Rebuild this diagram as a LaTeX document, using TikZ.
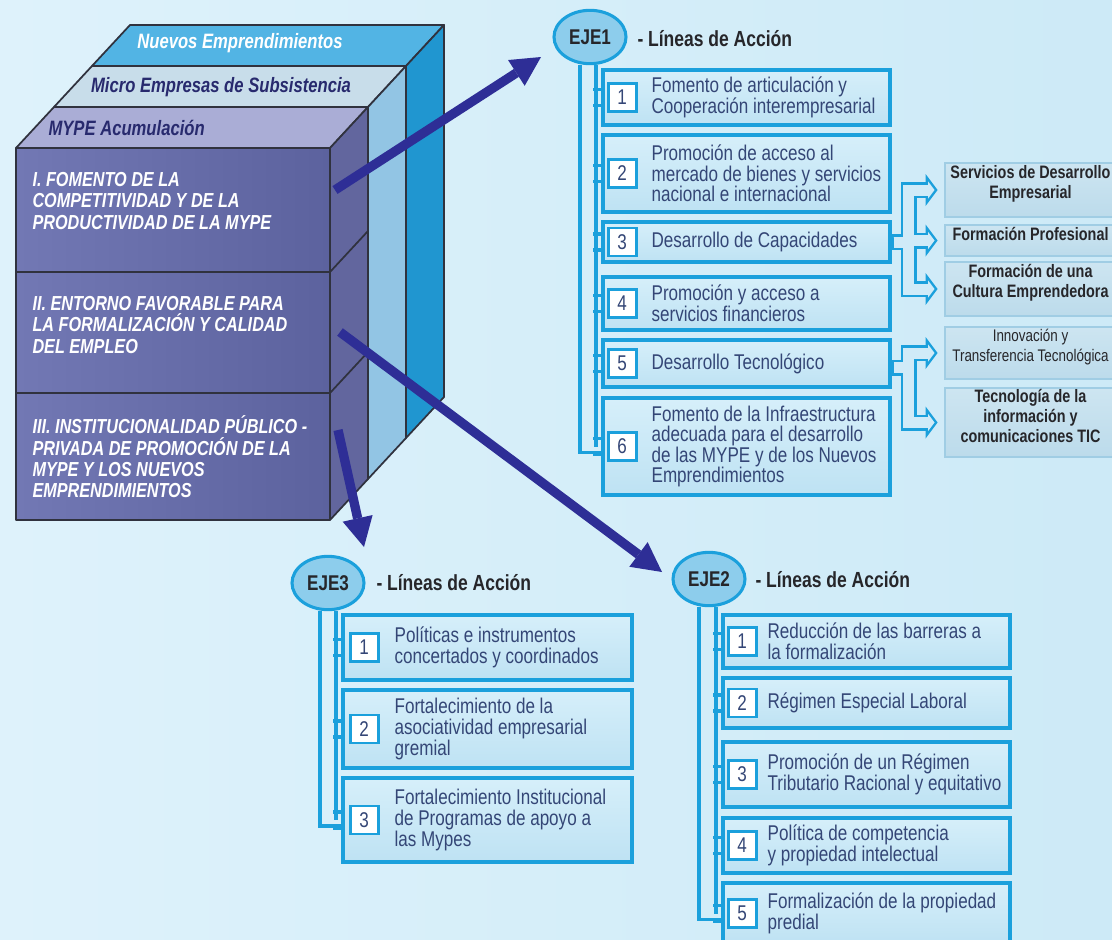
\documentclass[tikz,border=0pt]{standalone}
\usepackage{fontspec}
\setmainfont{Liberation Sans}[FakeStretch=0.8]
\usetikzlibrary{arrows.meta,fit,shapes.geometric}

\definecolor{bgleft}{RGB}{222,242,251}
\definecolor{bgright}{RGB}{205,234,247}
\definecolor{forkfill}{RGB}{208,235,248}
\definecolor{ejecyan}{RGB}{27,160,220}
\definecolor{ejefill}{RGB}{141,205,236}
\definecolor{boxtop}{RGB}{214,239,250}
\definecolor{boxbot}{RGB}{190,226,243}
\definecolor{itemtxt}{RGB}{52,70,118}
\definecolor{darktxt}{RGB}{38,38,42}
\definecolor{sidetop}{RGB}{205,229,241}
\definecolor{sidebot}{RGB}{188,219,235}
\definecolor{sideline}{RGB}{160,205,228}
\definecolor{navytxt}{RGB}{40,42,110}
\definecolor{arrowblue}{RGB}{46,46,150}
\definecolor{cubeline}{RGB}{48,50,62}
\definecolor{nuevostop}{RGB}{82,180,228}
\definecolor{nuevosside}{RGB}{32,150,208}
\definecolor{microtop}{RGB}{200,221,234}
\definecolor{microside}{RGB}{146,197,228}
\definecolor{mypetop}{RGB}{170,173,214}
\definecolor{mypeside}{RGB}{98,102,158}
\definecolor{mypefrontl}{RGB}{114,120,180}
\definecolor{mypefrontr}{RGB}{92,98,158}

\tikzset{every picture/.style={line width=0.75pt}}
\tikzset{
  cubeedge/.style={draw=cubeline, line width=1.3pt, line join=round},
  cubetxt/.style={inner sep=0.75pt, font=\bfseries\itshape\fontsize{15.6}{16}\selectfont},
  sectxt/.style={anchor=west, inner sep=0.75pt, align=left, text=white, font=\bfseries\itshape\fontsize{15.2}{16}\selectfont},
  thickarrow/.style={draw=arrowblue, line width=7pt, -{Triangle[length=22pt,width=23pt,line width=0pt]}},
  ejeball/.style={ellipse, draw=ejecyan, line width=2.3pt, fill=ejefill, minimum width=54pt, minimum height=40pt, inner sep=0pt, text=darktxt, font=\bfseries\fontsize{16}{16}\selectfont},
  titletxt/.style={anchor=west, inner sep=0.75pt, text=darktxt, font=\bfseries\fontsize{16.4}{17}\selectfont},
  stemline/.style={draw=ejecyan, line width=2.8pt},
  itembox/.style={draw=ejecyan, line width=2.8pt, top color=boxtop, bottom color=boxbot, inner sep=0pt},
  numbox/.style={draw=ejecyan, line width=2.1pt, fill=white, minimum width=21pt, minimum height=21pt, inner sep=0pt, text=itemtxt, font=\fontsize{16}{16}\selectfont},
  itemtext/.style={anchor=west, inner sep=0.75pt, align=left, text=itemtxt, font=\fontsize{16}{15.4}\selectfont},
  sidebox/.style={draw=sideline, line width=1.1pt, top color=sidetop, bottom color=sidebot, inner sep=0pt, align=center, text=darktxt, font=\bfseries\fontsize{13.5}{15}\selectfont},
  forkout/.style={draw=ejecyan, line width=12pt, -{Triangle[length=9pt,width=24pt,line width=0pt]}},
  forkin/.style={draw=forkfill, line width=8.25pt, shorten >=2.3pt, -{Triangle[length=4.8pt,width=12.75pt,line width=0pt]}},
}

\begin{document}
\begin{tikzpicture}[x=0.75pt,y=0.75pt,yscale=-1,xscale=1]

\useasboundingbox (0,0) rectangle (1112,939);
\clip (0,0) rectangle (1112,939);
\shade [left color=bgleft, right color=bgright] (0,0) rectangle (1112,939);

% cube, back layer first
\draw [cubeedge, fill=nuevostop] (92,66) -- (406,66) -- (444,25) -- (130,25) -- cycle ;
\draw [cubeedge, fill=nuevosside] (406,66) -- (406,438) -- (444,397) -- (444,25) -- cycle ;
\draw [cubeedge, fill=microtop] (54,107) -- (368,107) -- (406,66) -- (92,66) -- cycle ;
\draw [cubeedge, fill=microside] (368,107) -- (368,479) -- (406,438) -- (406,66) -- cycle ;
\draw [cubeedge, fill=mypetop] (16,148) -- (330,148) -- (368,107) -- (54,107) -- cycle ;
\draw [cubeedge, fill=mypeside] (330,148) -- (330,520) -- (368,479) -- (368,107) -- cycle ;
\draw [cubeedge, left color=mypefrontl, right color=mypefrontr] (16,148) rectangle (330,520) ;
\draw [cubeedge] (16,272) -- (330,272) -- (368,231) ;
\draw [cubeedge] (16,393) -- (330,393) -- (368,352) ;

\node [cubetxt, text=white] (nuevos) at (240,43) {Nuevos Emprendimientos};
\node [cubetxt, text=navytxt] (micro) at (221,87) {Micro Empresas de Subsistencia};
\node [cubetxt, text=navytxt, anchor=west] (mype) at (47,128) {MYPE Acumulación};
\node [sectxt] (sec1) at (31,201) {I. FOMENTO DE LA\\COMPETITIVIDAD Y DE LA\\PRODUCTIVIDAD DE LA MYPE};
\node [sectxt] (sec2) at (31,325) {II. ENTORNO FAVORABLE PARA\\LA FORMALIZACIÓN Y CALIDAD\\DEL EMPLEO};
\node [sectxt] (sec3) at (31,457) {III. INSTITUCIONALIDAD PÚBLICO -\\PRIVADA DE PROMOCIÓN DE LA\\MYPE Y LOS NUEVOS\\EMPRENDIMIENTOS};

% side boxes of EJE1
\node [sidebox, fit={(945,163) (1116,217)}] (sd1) {Servicios de Desarrollo\\Empresarial};
\node [sidebox, fit={(945,225) (1116,256)}] (sd2) {Formación Profesional};
\node [sidebox, fit={(945,262) (1116,316)}] (sd3) {Formación de una\\Cultura Emprendedora};
\node [sidebox, fit={(945,327) (1116,379)}, font=\fontsize{12.6}{15}\selectfont] (sd4) {Innovación y\\Transferencia Tecnológica};
\node [sidebox, fit={(945,388) (1116,457)}] (sd5) {Tecnología de la\\información y\\comunicaciones TIC};

% EJE1
\node [ejeball] (eje1) at (590,37) {EJE1};
\node [titletxt] (tit1) at (636,39) {- Líneas de Acción};
\node [itembox, fit={(603,70) (890,125)}] (e1b1) {};
\node [itembox, fit={(603,135) (890,212)}] (e1b2) {};
\node [itembox, fit={(603,222) (890,262)}] (e1b3) {};
\node [itembox, fit={(603,277) (890,330)}] (e1b4) {};
\node [itembox, fit={(603,340) (890,387)}] (e1b5) {};
\node [itembox, fit={(603,398) (890,495)}] (e1b6) {};
\node [numbox] (e1n1) at ([shift={(21,0)}]e1b1.west) {1};
\node [numbox] (e1n2) at ([shift={(21,0)}]e1b2.west) {2};
\node [numbox] (e1n3) at ([shift={(21,0)}]e1b3.west) {3};
\node [numbox] (e1n4) at ([shift={(21,0)}]e1b4.west) {4};
\node [numbox] (e1n5) at ([shift={(21,0)}]e1b5.west) {5};
\node [numbox] (e1n6) at ([shift={(21,0)}]e1b6.west) {6};
\node [itemtext] (e1t1) at ([shift={(49,0)}]e1b1.west) {Fomento de articulación y\\Cooperación interempresarial};
\node [itemtext] (e1t2) at ([shift={(49,0)}]e1b2.west) {Promoción de acceso al\\mercado de bienes y servicios\\nacional e internacional};
\node [itemtext] (e1t3) at ([shift={(49,0)}]e1b3.west) {Desarrollo de Capacidades};
\node [itemtext] (e1t4) at ([shift={(49,0)}]e1b4.west) {Promoción y acceso a\\servicios financieros};
\node [itemtext] (e1t5) at ([shift={(49,0)}]e1b5.west) {Desarrollo Tecnológico};
\node [itemtext] (e1t6) at ([shift={(49,0)}]e1b6.west) {Fomento de la Infraestructura\\adecuada para el desarrollo\\de las MYPE y de los Nuevos\\Emprendimientos};

\draw [stemline] ([xshift=-7.5pt]eje1.south) |- ([shift={(0,6)}]e1b6.west) ;
\draw [stemline] ([xshift=4.5pt]eje1.south) coordinate (e1in) -- (e1in |- e1b6.west) ;
\foreach \b in {e1b1,e1b2,e1b3,e1b4,e1b5,e1b6}
  \draw [stemline] (\b.west) ++(-8,-8) -- ++(8,0) ++(-8,16) -- ++(8,0) ;

% hollow forks to the side boxes
\foreach \t in {sd1,sd2,sd3}
  \draw [forkout] (e1b3.east) -- ++(17,0) |- ([xshift=-5pt]\t.west) ;
\foreach \t in {sd4,sd5}
  \draw [forkout] ([shift={(0,4)}]e1b5.east) -- ++(17,0) |- ([xshift=-5pt]\t.west) ;
\foreach \t in {sd1,sd2,sd3}
  \draw [forkin] ([xshift=1.4pt]e1b3.east) -- ++(15.1,0) |- ([xshift=-5pt]\t.west) ;
\foreach \t in {sd4,sd5}
  \draw [forkin] ([shift={(1.9,4)}]e1b5.east) -- ++(15.1,0) |- ([xshift=-5pt]\t.west) ;

% EJE3
\node [ejeball] (eje3) at (328,583) {EJE3};
\node [titletxt] (tit3) at (375,583) {- Líneas de Acción};
\node [itembox, fit={(343,615) (632,680)}] (e3b1) {};
\node [itembox, fit={(343,690) (632,768)}] (e3b2) {};
\node [itembox, fit={(343,778) (632,862)}] (e3b3) {};
\node [numbox] (e3n1) at ([shift={(23,0)}]e3b1.west) {1};
\node [numbox] (e3n2) at ([shift={(23,0)}]e3b2.west) {2};
\node [numbox] (e3n3) at ([shift={(23,0)}]e3b3.west) {3};
\node [itemtext] (e3t1) at ([shift={(52,0)}]e3b1.west) {Políticas e instrumentos\\concertados y coordinados};
\node [itemtext] (e3t2) at ([shift={(52,0)}]e3b2.west) {Fortalecimiento de la\\asociatividad empresarial\\gremial};
\node [itemtext] (e3t3) at ([shift={(52,0)}]e3b3.west) {Fortalecimiento Institucional\\de Programas de apoyo a\\las Mypes};

\draw [stemline] ([xshift=-6pt]eje3.south) |- ([shift={(0,6)}]e3b3.west) ;
\draw [stemline] ([xshift=6pt]eje3.south) coordinate (e3in) -- (e3in |- e3b3.west) ;
\foreach \b in {e3b1,e3b2,e3b3}
  \draw [stemline] (\b.west) ++(-8,-8) -- ++(8,0) ++(-8,16) -- ++(8,0) ;

% EJE2
\node [ejeball] (eje2) at (709,579) {EJE2};
\node [titletxt] (tit2) at (754,580) {- Líneas de Acción};
\node [itembox, fit={(723,615) (1010,668)}] (e2b1) {};
\node [itembox, fit={(723,678) (1010,728)}] (e2b2) {};
\node [itembox, fit={(723,742) (1010,807)}] (e2b3) {};
\node [itembox, fit={(723,818) (1010,873)}] (e2b4) {};
\node [itembox, fit={(723,883) (1010,944)}] (e2b5) {};
\node [numbox] (e2n1) at ([shift={(21,0)}]e2b1.west) {1};
\node [numbox] (e2n2) at ([shift={(21,0)}]e2b2.west) {2};
\node [numbox] (e2n3) at ([shift={(21,0)}]e2b3.west) {3};
\node [numbox] (e2n4) at ([shift={(21,0)}]e2b4.west) {4};
\node [numbox] (e2n5) at ([shift={(21,0)}]e2b5.west) {5};
\node [itemtext] (e2t1) at ([shift={(45,0)}]e2b1.west) {Reducción de las barreras a\\la formalización};
\node [itemtext] (e2t2) at ([shift={(45,0)}]e2b2.west) {Régimen Especial Laboral};
\node [itemtext] (e2t3) at ([shift={(45,0)}]e2b3.west) {Promoción de un Régimen\\Tributario Racional y equitativo};
\node [itemtext] (e2t4) at ([shift={(45,0)}]e2b4.west) {Política de competencia\\y propiedad intelectual};
\node [itemtext] (e2t5) at ([shift={(45,0)}]e2b5.west) {Formalización de la propiedad\\predial};

\draw [stemline] ([xshift=-7.5pt]eje2.south) |- ([shift={(0,6)}]e2b5.west) ;
\draw [stemline] ([xshift=5.25pt]eje2.south) coordinate (e2in) -- (e2in |- e2b5.west) ;
\foreach \b in {e2b1,e2b2,e2b3,e2b4,e2b5}
  \draw [stemline] (\b.west) ++(-8,-8) -- ++(8,0) ++(-8,16) -- ++(8,0) ;

% thick arrows from the cube
\coordinate (s1) at (335,190);
\coordinate (s2) at (340,332);
\coordinate (s3) at (338,430);
\coordinate (a1) at (541,57);
\coordinate (a2) at (662,572);
\coordinate (a3) at (364,547);
\draw [thickarrow] (s1) -- (a1) ;
\draw [thickarrow] (s2) -- (a2) ;
\draw [thickarrow] (s3) -- (a3) ;

\end{tikzpicture}
\end{document}
